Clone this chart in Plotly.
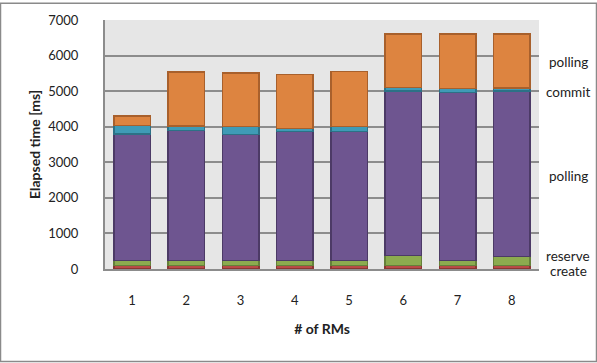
import plotly.graph_objects as go

# Number of resource managers on the x axis
rms = ["1", "2", "3", "4", "5", "6", "7", "8"]

# Elapsed time per phase [ms], stacked bottom to top
create = [95, 95, 95, 95, 95, 95, 95, 95]
reserve = [140, 140, 140, 140, 140, 290, 140, 250]
polling_main = [3560, 3660, 3540, 3625, 3635, 4625, 4720, 4655]
commit = [233, 130, 232, 83, 130, 92, 120, 83]
polling_final = [280, 1520, 1503, 1530, 1548, 1505, 1530, 1520]

Y_MAX = 7000

series = [
    ("create", create, "#b84b47", "#8a3532"),
    ("reserve", reserve, "#8cab4f", "#65803a"),
    ("polling", polling_main, "#6e5590", "#4c3a66"),
    ("commit", commit, "#3f9bb6", "#2c7186"),
    ("polling", polling_final, "#dd8440", "#a8602c"),
]

fig = go.Figure()
for name, vals, fill, edge in series:
    fig.add_trace(go.Bar(
        x=rms, y=vals, name=name,
        marker=dict(color=fill, line=dict(color=edge, width=1.5)),
        showlegend=False,
    ))

font_family = "Lato, 'Open Sans', sans-serif"

# Phase labels on the right-hand side (positions given in ms)
side_labels = [("polling", 5817), ("commit", 4982), ("polling", 2616),
               ("reserve", 362), ("create", -56)]
for text, yv in side_labels:
    fig.add_annotation(
        x=1.067, xref="paper", y=yv / Y_MAX, yref="paper", text=text,
        showarrow=False,
        font=dict(family=font_family, size=13.5, color="#222222"),
        xanchor="center", yanchor="middle",
    )

# Outer frame around the whole figure
fig.add_shape(type="rect", xref="paper", yref="paper",
              x0=-0.2408, x1=1.1325, y0=-0.3718, y1=1.0676,
              line=dict(color="#8a8a8a", width=1.5), layer="above")

fig.update_layout(
    width=597, height=363,
    margin=dict(l=105, r=58, t=17.5, b=94),
    barmode="stack", bargap=0.33,
    plot_bgcolor="#e6e6e6", paper_bgcolor="#ffffff",
    font=dict(family=font_family, size=13, color="#222222"),
    xaxis=dict(
        title=dict(text="<b># of RMs</b>", font=dict(size=14), standoff=18),
        showline=True, linecolor="#8c8c8c", linewidth=2,
        ticks="", ticklabelstandoff=18, showgrid=False,
    ),
    yaxis=dict(
        title=dict(text="<b>Elapsed time [ms]</b>", font=dict(size=14), standoff=4),
        range=[0, Y_MAX], tickvals=[0, 1000, 2000, 3000, 4000, 5000, 6000, 7000],
        showgrid=True, gridcolor="#8c8c8c", gridwidth=1.5,
        showline=True, linecolor="#8c8c8c", linewidth=2,
        ticks="", ticklabelstandoff=22, zeroline=False,
    ),
)

fig.write_html("out.html")
